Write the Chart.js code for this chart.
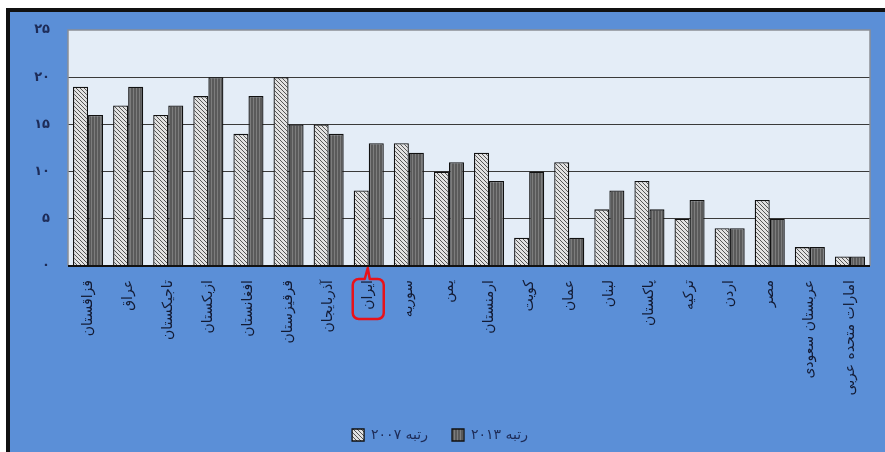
<!DOCTYPE html>
<html>
<head>
<meta charset="utf-8">
<script src="https://cdn.jsdelivr.net/npm/chart.js@4.4.0/dist/chart.umd.min.js"></script>
<style>
  html, body { margin: 0; padding: 0; background: #fff; }
  #wrap { width: 885px; height: 452px; }
</style>
</head>
<body>
<div id="wrap"><canvas id="ranks"></canvas></div>
<script>
const countries = ['قزاقستان', 'عراق', 'تاجیکستان', 'ازبکستان', 'افغانستان', 'قرقیزستان', 'آذربایجان', 'ایران', 'سوریه', 'یمن',
  'ارمنستان', 'کویت', 'عمان', 'لبنان', 'پاکستان', 'ترکیه', 'اردن', 'مصر', 'عربستان سعودی', 'امارات متحده عربی'];
const rank2007 = [19, 17, 16, 18, 14, 20, 15, 8, 13, 10, 12, 3, 11, 6, 9, 5, 4, 7, 2, 1];
const rank2013 = [16, 19, 17, 20, 18, 15, 14, 13, 12, 11, 9, 10, 3, 8, 6, 7, 4, 5, 2, 1];
const yTicks = ['۰', '۵', '۱۰', '۱۵', '۲۰', '۲۵'];
const highlightIndex = 7; // ایران

const BLUE = '#5b8fd7';

// hatch fills for the bars
function lightHatch() {
  const c = document.createElement('canvas');
  c.width = 4; c.height = 4;
  const g = c.getContext('2d');
  g.fillStyle = '#e2e2e2';
  g.fillRect(0, 0, 4, 4);
  g.strokeStyle = '#555';
  g.lineWidth = 1;
  g.beginPath();
  for (const o of [-4, 0, 4]) {
    g.moveTo(o, 0);
    g.lineTo(o + 4, 4);
  }
  g.stroke();
  return g.createPattern(c, 'repeat');
}

function darkStripes() {
  const c = document.createElement('canvas');
  c.width = 3; c.height = 2;
  const g = c.getContext('2d');
  g.fillStyle = '#5a5a5a';
  g.fillRect(0, 0, 3, 2);
  g.fillStyle = '#7d7d7d';
  g.fillRect(1, 0, 1, 2);
  return g.createPattern(c, 'repeat');
}

const frame = {
  id: 'frame',
  beforeDraw(chart) {
    const { ctx, width, height, chartArea: a } = chart;
    ctx.save();
    ctx.fillStyle = '#fff';
    ctx.fillRect(0, 0, width, height);
    ctx.fillStyle = '#111';
    ctx.fillRect(6, 8, width - 6, height - 8);
    ctx.fillStyle = BLUE;
    ctx.fillRect(10, 12, width - 10, height - 12);
    ctx.fillStyle = '#e4edf7';
    ctx.fillRect(a.left, a.top, a.right - a.left, a.bottom - a.top);
    ctx.restore();
  },
  afterDatasetsDraw(chart) {
    const { ctx, chartArea: a } = chart;
    ctx.save();
    ctx.strokeStyle = '#8a8f96';
    ctx.lineWidth = 1.5;
    ctx.beginPath();
    ctx.moveTo(a.left, a.bottom);
    ctx.lineTo(a.left, a.top);
    ctx.lineTo(a.right, a.top);
    ctx.lineTo(a.right, a.bottom);
    ctx.stroke();
    ctx.strokeStyle = '#111';
    ctx.lineWidth = 2;
    ctx.beginPath();
    ctx.moveTo(a.left, a.bottom);
    ctx.lineTo(a.right, a.bottom);
    ctx.stroke();
    ctx.restore();
  },
  afterDraw(chart) {
    // red callout round the Iran label
    const { ctx, chartArea: a } = chart;
    const x = chart.scales.x.getPixelForValue(highlightIndex);
    const l = x - 16, r = x + 15, t = a.bottom + 13, b = a.bottom + 53, rad = 6;
    ctx.save();
    ctx.strokeStyle = '#e8121a';
    ctx.lineWidth = 2.5;
    ctx.lineJoin = 'round';
    ctx.beginPath();
    ctx.moveTo(x - 4, t);
    ctx.lineTo(x - 1, a.bottom + 2);
    ctx.lineTo(x + 1, t);
    ctx.lineTo(r - rad, t);
    ctx.arcTo(r, t, r, t + rad, rad);
    ctx.lineTo(r, b - rad);
    ctx.arcTo(r, b, r - rad, b, rad);
    ctx.lineTo(l + rad, b);
    ctx.arcTo(l, b, l, b - rad, rad);
    ctx.lineTo(l, t + rad);
    ctx.arcTo(l, t, l + rad, t, rad);
    ctx.closePath();
    ctx.stroke();
    ctx.restore();
  }
};

new Chart(document.getElementById('ranks'), {
  type: 'bar',
  data: {
    labels: countries,
    datasets: [
      {
        label: 'رتبه ۲۰۰۷',
        data: rank2007,
        backgroundColor: lightHatch(),
        borderColor: '#111',
        borderWidth: 1.3,
        categoryPercentage: 0.75,
        barPercentage: 1.0,
      },
      {
        label: 'رتبه ۲۰۱۳',
        data: rank2013,
        backgroundColor: darkStripes(),
        borderColor: '#111',
        borderWidth: 1.3,
        categoryPercentage: 0.75,
        barPercentage: 1.0,
      },
    ],
  },
  options: {
    responsive: true,
    maintainAspectRatio: false,
    animation: false,
    layout: { padding: { left: 10, top: 30, right: 15, bottom: 0 } },
    scales: {
      x: {
        grid: { display: false },
        border: { display: false },
        ticks: {
          autoSkip: false,
          minRotation: 90,
          maxRotation: 90,
          padding: 6,
          color: '#121a33',
          font: { family: 'DejaVu Sans', size: 14 },
        },
        afterFit(scale) { scale.height = 138; },
      },
      y: {
        min: 0,
        max: 25,
        grid: {
          drawTicks: false,
          color: (c) => (c.tick.value === 0 || c.tick.value === 25) ? 'rgba(0,0,0,0)' : '#3a3a3a',
          lineWidth: 1,
        },
        border: { display: false },
        ticks: {
          stepSize: 5,
          padding: 18,
          color: '#1d2b57',
          font: { family: 'DejaVu Sans', size: 13, weight: 'bold' },
          callback: (v) => yTicks[v / 5],
        },
        afterFit(scale) { scale.width = 58; },
      },
    },
    plugins: {
      legend: {
        position: 'bottom',
        labels: {
          boxWidth: 12,
          boxHeight: 12,
          padding: 24,
          color: '#1d2b57',
          font: { family: 'DejaVu Sans', size: 14 },
        },
      },
      tooltip: { enabled: false },
    },
  },
  plugins: [frame],
});
</script>
</body>
</html>
